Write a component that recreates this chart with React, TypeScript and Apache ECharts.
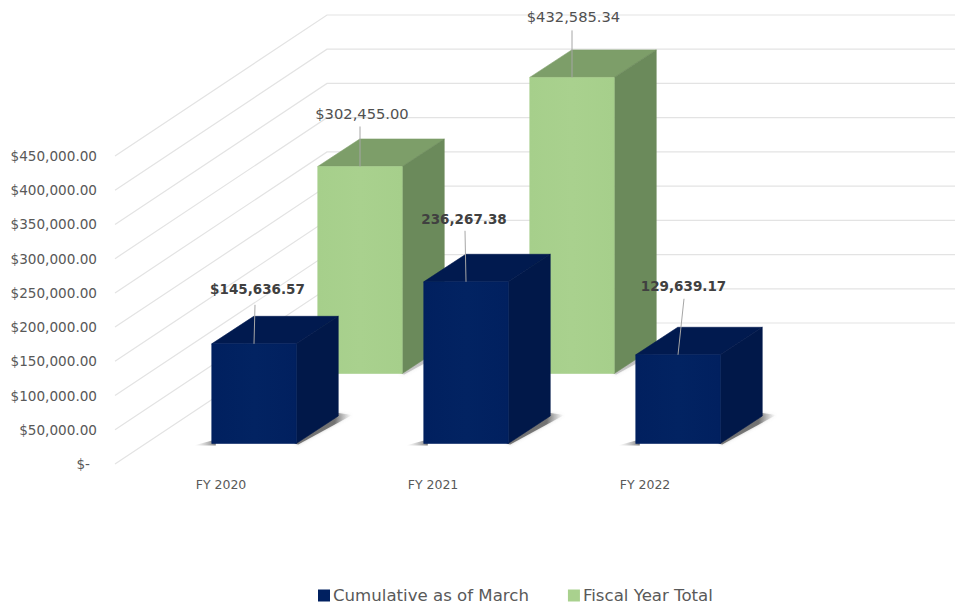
import React, { useEffect, useRef } from "react";
import * as echarts from "echarts";

const categories = ["FY 2020", "FY 2021", "FY 2022"];
const cumulativeValues = [145636.57, 236267.38, 129639.17];
const fiscalTotalSeries = [302455.0, 432585.34];
const gridTicks = [0, 50000, 100000, 150000, 200000, 250000, 300000, 350000, 400000, 450000];
const cumulativeLabels = ["$145,636.57", "236,267.38", "129,639.17"];
const fiscalLabels = ["$302,455.00", "$432,585.34"];

const FONT = '"DejaVu Sans", sans-serif';
const BAR_W = 84.5;
const DX = 42;
const DY = 27.5;

type Row = {
  offsetX: number;
  offsetY: number;
  face: string;
  faceHi: string;
  top: string;
  side: string;
  shadow: string;
  labels: string[];
  label: { dx: number; y: number; tipDx: number; tipY: number; bold: boolean }[];
};

const frontRow: Row = {
  offsetX: 33,
  offsetY: -19.5,
  face: "#01205f",
  faceHi: "#022362",
  top: "#011a4f",
  side: "#011849",
  shadow: "rgba(70,70,70,0.7)",
  labels: cumulativeLabels,
  label: [
    { dx: 3.5, y: -55, tipDx: 1, tipY: -39, bold: true },
    { dx: -2, y: -63, tipDx: -1, tipY: -51, bold: true },
    { dx: 5.5, y: -69, tipDx: 6, tipY: -56, bold: true },
  ],
};

const backRow: Row = {
  offsetX: 139,
  offsetY: -89.5,
  face: "#a6cf8b",
  faceHi: "#a9d18e",
  top: "#7d9e69",
  side: "#6b8a5b",
  shadow: "rgba(120,120,120,0.35)",
  labels: fiscalLabels,
  label: [
    { dx: 2, y: -53, tipDx: 0, tipY: -40, bold: false },
    { dx: 1.5, y: -61, tipDx: 0, tipY: -47, bold: false },
  ],
};

function barRenderer(row: Row) {
  return (params: any, api: any) => {
    const p = api.coord([api.value(0), api.value(1)]);
    const base = api.coord([api.value(0), 0]);
    const cx = p[0] + row.offsetX;
    const x0 = cx - BAR_W / 2;
    const x1 = cx + BAR_W / 2;
    const yt = p[1] + row.offsetY;
    const yb = base[1] + row.offsetY;
    const lab = row.label[params.dataIndex];
    const children: any[] = [
      {
        type: "polygon",
        shape: {
          points: [
            [x1 - 2, yb],
            [x1 + 2, yb + 1],
            [x1 + DX + 14, yb - DY - 1],
            [x1 + DX, yb - DY - 3],
          ],
        },
        style: {
          fill: new echarts.graphic.LinearGradient(0, 0, 1, 0, [
            { offset: 0, color: row.shadow },
            { offset: 0.7, color: row.shadow },
            { offset: 1, color: "rgba(170,170,170,0)" },
          ]),
          shadowBlur: 3,
          shadowColor: "rgba(120,120,120,0.5)",
        },
      },
      {
        type: "polygon",
        shape: {
          points: [
            [x0 - 18, yb + 2],
            [x0 + 4, yb - 4],
            [x0 + 4, yb + 2],
          ],
        },
        style: {
          fill: new echarts.graphic.LinearGradient(0, 0, 1, 0, [
            { offset: 0, color: "rgba(170,170,170,0)" },
            { offset: 1, color: row.shadow },
          ]),
        },
      },
      {
        type: "polygon",
        shape: { points: [[x0, yt], [x0 + DX, yt - DY], [x1 + DX, yt - DY], [x1, yt]] },
        style: { fill: row.top, stroke: row.top, lineWidth: 0.6 },
      },
      {
        type: "polygon",
        shape: { points: [[x1, yt], [x1 + DX, yt - DY], [x1 + DX, yb - DY], [x1, yb]] },
        style: { fill: row.side, stroke: row.side, lineWidth: 0.6 },
      },
      {
        type: "rect",
        shape: { x: x0, y: yt, width: BAR_W, height: yb - yt },
        style: {
          fill: new echarts.graphic.LinearGradient(0, 0, 1, 0, [
            { offset: 0, color: row.face },
            { offset: 0.5, color: row.faceHi },
            { offset: 1, color: row.face },
          ]),
          stroke: row.face,
          lineWidth: 0.6,
        },
      },
      {
        type: "line",
        shape: { x1: cx, y1: yt, x2: cx + lab.tipDx, y2: yt + lab.tipY },
        style: { stroke: "#a6a6a6", lineWidth: 1 },
      },
      {
        type: "text",
        style: {
          x: cx + lab.dx,
          y: yt + lab.y,
          text: row.labels[params.dataIndex],
          textAlign: "center",
          textVerticalAlign: "middle",
          fill: lab.bold ? "#404040" : "#505050",
          font: `${lab.bold ? "bold 13.5px" : "14.7px"} ${FONT}`,
        },
      },
    ];
    return { type: "group", children };
  };
}

function gridRenderer(_params: any, api: any) {
  const y = api.coord([0, api.value(1)])[1];
  const left = 115;
  const depthX = 212;
  const depthY = 140;
  const right = 955;
  return {
    type: "polyline",
    shape: { points: [[left, y + 1], [left + depthX, y - depthY], [right, y - depthY]] },
    style: { stroke: "#e3e3e3", lineWidth: 1.2, fill: "none" },
  };
}

export default function App() {
  const ref = useRef<HTMLDivElement>(null);
  useEffect(() => {
    const chart = echarts.init(ref.current!, null, { renderer: "svg" });
    chart.setOption({
      animation: false,
      backgroundColor: "#ffffff",
      legend: {
        data: ["Cumulative as of March", "Fiscal Year Total"],
        left: 313,
        top: 582,
        icon: "rect",
        itemWidth: 12,
        itemHeight: 12,
        itemGap: 39,
        selectedMode: false,
        textStyle: { color: "#595959", fontSize: 16.6, fontFamily: FONT, padding: [0, 0, 0, -2] },
      },
      grid: { left: 115, top: 155, width: 636, height: 308 },
      xAxis: {
        type: "category",
        data: categories,
        axisLine: { show: false },
        axisTick: { show: false },
        axisLabel: { color: "#595959", fontSize: 12.5, fontFamily: FONT, margin: 15 },
      },
      yAxis: {
        type: "value",
        min: 0,
        max: 450000,
        interval: 50000,
        axisLine: { show: false },
        axisTick: { show: false },
        splitLine: { show: false },
        axisLabel: {
          color: "#595959",
          fontSize: 13.6,
          fontFamily: FONT,
          margin: 18,
          padding: [2, 0, 0, 0],
          formatter: (v: number) =>
            v === 0
              ? "{zero|$-}"
              : "$" + v.toLocaleString("en-US", { minimumFractionDigits: 2, maximumFractionDigits: 2 }),
          rich: { zero: { color: "#595959", fontSize: 13.6, fontFamily: FONT, padding: [0, 7, 0, 0] } },
        },
      },
      series: [
        {
          type: "custom",
          name: "grid",
          z: 1,
          silent: true,
          renderItem: gridRenderer,
          data: gridTicks.map((t) => [0, t]),
          encode: { x: 0, y: 1 },
        },
        {
          type: "custom",
          name: "Cumulative as of March",
          z: 4,
          itemStyle: { color: "#002060" },
          renderItem: barRenderer(frontRow),
          data: cumulativeValues.map((v, i) => [i, v]),
          encode: { x: 0, y: 1 },
        },
        {
          type: "custom",
          name: "Fiscal Year Total",
          z: 3,
          itemStyle: { color: "#a9d18e" },
          renderItem: barRenderer(backRow),
          data: fiscalTotalSeries.map((v, i) => [i, v]),
          encode: { x: 0, y: 1 },
        },
      ],
    });
    return () => chart.dispose();
  }, []);
  return <div ref={ref} style={{ position: "absolute", left: 0, top: 0, width: 955, height: 609 }} />;
}
